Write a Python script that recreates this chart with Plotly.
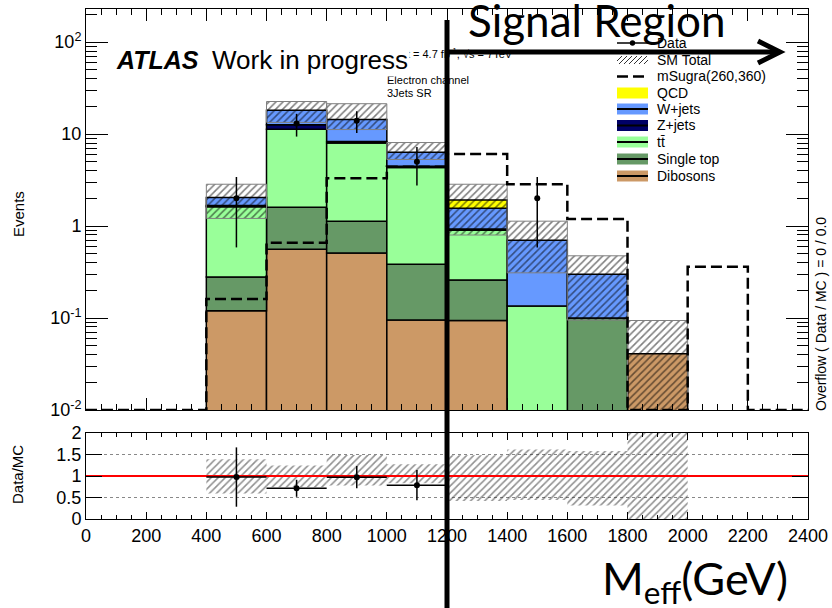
import numpy as np
import plotly.graph_objects as go

# ---------------- data: M_eff distribution, 200 GeV bins ----------------
bin_edges = list(range(0, 2600, 200))

# stacked backgrounds (events per bin), bottom of the stack first
dibosons   = [0, 0, 0.12, 0.56, 0.51, 0.095, 0.094, 0, 0, 0.041, 0, 0]
single_top = [0, 0, 0.16, 1.04, 0.62, 0.29, 0.165, 0, 0.10, 0, 0, 0]
ttbar      = [0, 0, 1.34, 9.7, 6.87, 3.96, 0.64, 0.135, 0, 0, 0, 0]
z_jets     = [0, 0, 0.05, 1.3, 0.3, 0.12, 0.03, 0, 0, 0, 0, 0]
w_jets     = [0, 0, 0.38, 5.6, 6.1, 1.9, 0.63, 0.565, 0.20, 0, 0, 0]
qcd        = [0, 0, 0, 0, 0, 0, 0.36, 0, 0, 0, 0, 0]

# SM total uncertainty (absolute, up / down)
sm_err_up   = [0, 0, 0.80, 4.4, 7.0, 1.73, 0.93, 0.43, 0.175, 0.053, 0, 0]
sm_err_down = [0, 0, 0.84, 4.8, 3.2, 1.07, 1.12, 0.39, 0.205, 0.041, 0, 0]

# signal benchmark and observed data
msugra = [0, 0, 0.161, 0.658, 3.30, 4.41, 6.06, 2.84, 1.19, 0, 0.361, 0]
data   = [0, 0, 2, 13, 14, 5, 0, 2, 0, 0, 0, 0]

# axis ticks
x_tick_step = 200
y_tick_vals = [0.01, 0.1, 1, 10, 100]
y_tick_text = ["10<sup>-2</sup>", "10<sup>-1</sup>", "1", "10", "10<sup>2</sup>"]
ratio_tick_vals = [0, 0.5, 1, 1.5, 2]
ratio_tick_text = ["0", "0.5", "1", "1.5", "2"]

# legend entries
legend_names = ["Data", "SM Total", "mSugra(260,360)", "QCD", "W+jets",
                "Z+jets", "tt\u0304", "Single top", "Dibosons"]

# ---------------- styling / geometry ----------------
FONT = "Liberation Sans, Arial, Helvetica, sans-serif"
BIG_FONT = "Lato, Open Sans, sans-serif"
W, H = 832, 608
ML, MR, MT, MB = 86, 24, 9, 89
PW, PH = W - ML - MR, H - MT - MB
X_MIN, X_MAX = bin_edges[0], bin_edges[-1]
Y_LOG_RANGE = [-2, 2.36]
FLOOR = 1e-3  # below the visible log range

colors = {
    "Dibosons": "#CC9966",
    "Single top": "#669966",
    "tt": "#99FF99",
    "Z+jets": "#000066",
    "W+jets": "#6699FF",
    "QCD": "#FFFF00",
}


def px(xp):
    return (xp - ML) / PW


def py(yp):
    return (H - MB - yp) / PH


main_domain = [py(410), 1.0]
ratio_domain = [0.0, py(433)]

edges = np.array(bin_edges, float)
centers = (edges[:-1] + edges[1:]) / 2
widths = edges[1:] - edges[:-1]

fig = go.Figure()

# ---------------- stacked histogram ----------------
stack = [
    (dibosons, colors["Dibosons"]),
    (single_top, colors["Single top"]),
    (ttbar, colors["tt"]),
    (z_jets, colors["Z+jets"]),
    (w_jets, colors["W+jets"]),
    (qcd, colors["QCD"]),
]
cum = np.zeros(len(centers))
for vals, col in stack:
    v = np.array(vals, float)
    m = v > 0
    base = np.where(cum > 0, cum, FLOOR)
    top = cum + v
    fig.add_bar(x=centers[m], y=(top - base)[m], base=base[m], width=widths[m],
                marker=dict(color=col, line=dict(color="black", width=1.5)),
                xaxis="x", yaxis="y", hoverinfo="skip")
    cum = top
total = cum

# SM total uncertainty band (hatched)
lo = total - np.array(sm_err_down, float)
hi = total + np.array(sm_err_up, float)
mt = total > 0
lo_b = np.where(lo > 0, lo, FLOOR)
fig.add_bar(x=centers[mt], y=(hi - lo_b)[mt], base=lo_b[mt], width=widths[mt],
            marker=dict(color="rgba(0,0,0,0)", line=dict(color="#808080", width=1),
                        pattern=dict(shape="/", fgcolor="#000000", bgcolor="rgba(0,0,0,0)",
                                     size=5, solidity=0.32, fillmode="overlay")),
            xaxis="x", yaxis="y", hoverinfo="skip")

# mSugra signal as dashed step line
ms = np.maximum(np.array(msugra, float), 10 ** Y_LOG_RANGE[0])
fig.add_scatter(x=edges, y=np.append(ms, ms[-1]), mode="lines",
                line=dict(shape="hv", color="black", width=2.5, dash="11px,5px"),
                xaxis="x", yaxis="y", hoverinfo="skip")

# data points
d = np.array(data, float)
md = d > 0
fig.add_scatter(x=centers[md], y=d[md], mode="markers",
                marker=dict(color="black", size=6),
                error_y=dict(type="data", array=np.sqrt(d[md]), color="black",
                             thickness=1.5, width=0),
                xaxis="x", yaxis="y", hoverinfo="skip")

# ---------------- ratio panel ----------------
r_lo = np.clip(lo[mt] / total[mt], 0, None)
r_hi = hi[mt] / total[mt]
fig.add_bar(x=centers[mt], y=r_hi - r_lo, base=r_lo, width=widths[mt],
            marker=dict(color="rgba(0,0,0,0)", line=dict(width=0),
                        pattern=dict(shape="/", fgcolor="#222222", bgcolor="rgba(0,0,0,0)",
                                     size=5, solidity=0.32, fillmode="overlay")),
            xaxis="x2", yaxis="y2", hoverinfo="skip")

fig.add_scatter(x=[X_MIN, X_MAX], y=[1, 1], mode="lines",
                line=dict(color="#FF0000", width=2), xaxis="x2", yaxis="y2",
                hoverinfo="skip")

safe_tot = np.where(total > 0, total, 1)
ratio = d / safe_tot
mr = md & (total > 0) & (ratio <= 2)
fig.add_scatter(x=centers[mr], y=ratio[mr], mode="markers",
                marker=dict(color="black", size=6),
                error_y=dict(type="data", array=(np.sqrt(d) / safe_tot)[mr], color="black",
                             thickness=1.5, width=0),
                error_x=dict(type="data", array=(widths / 2)[mr], color="black",
                             thickness=1.5, width=0),
                xaxis="x2", yaxis="y2", hoverinfo="skip")

# ---------------- axes ----------------
minor_log = [k * 10 ** e for e in range(-2, 3) for k in range(2, 10)
             if np.log10(k * 10 ** e) < Y_LOG_RANGE[1]]
tickfont = dict(family=FONT, size=18, color="black")
common = dict(showline=True, linecolor="black", linewidth=1, mirror="allticks",
              zeroline=False, tickcolor="black", tickwidth=1, ticks="inside",
              automargin=False)

fig.update_layout(
    width=W, height=H,
    margin=dict(l=ML, r=MR, t=MT, b=MB, pad=0, autoexpand=False),
    paper_bgcolor="white", plot_bgcolor="white",
    barmode="overlay", showlegend=False,
    xaxis=dict(domain=[0, 1], anchor="y", range=[X_MIN, X_MAX],
               tick0=0, dtick=x_tick_step, ticklen=12, showticklabels=False,
               minor=dict(dtick=x_tick_step / 4, tick0=0, ticks="inside", ticklen=6,
                          tickcolor="black", showgrid=False),
               showgrid=False, **common),
    yaxis=dict(domain=main_domain, anchor="x", type="log", range=Y_LOG_RANGE,
               tickmode="array", tickvals=y_tick_vals, ticktext=y_tick_text,
               ticklen=22, tickfont=tickfont,
               minor=dict(tickmode="array", tickvals=minor_log, ticks="inside",
                          ticklen=11, tickcolor="black", showgrid=False),
               showgrid=False, **common),
    xaxis2=dict(domain=[0, 1], anchor="y2", range=[X_MIN, X_MAX],
                tick0=0, dtick=x_tick_step, ticklen=7, tickfont=tickfont,
                minor=dict(dtick=x_tick_step / 4, tick0=0, ticks="inside", ticklen=4,
                           tickcolor="black", showgrid=False),
                showgrid=False, **common),
    yaxis2=dict(domain=ratio_domain, anchor="x2", range=[0, 2],
                tickmode="array", tickvals=ratio_tick_vals, ticktext=ratio_tick_text,
                ticklen=16, tickfont=tickfont,
                showgrid=True, gridcolor="#888888", griddash="dot", gridwidth=1,
                **common),
)

# ---------------- legend (drawn by hand, ROOT style) ----------------
shapes = []
annotations = []
LX0, LX1, LTX = 617, 648, 655
row_y = [43, 60, 76.5, 93, 109, 125.5, 142, 159, 176]
box_h = 11

# Data: line with a marker
shapes.append(dict(type="line", xref="paper", yref="paper", x0=px(LX0), x1=px(LX1),
                   y0=py(row_y[0]), y1=py(row_y[0]), line=dict(color="black", width=1.5)))
cx = (LX0 + LX1) / 2
shapes.append(dict(type="circle", xref="paper", yref="paper", x0=px(cx - 2.7), x1=px(cx + 2.7),
                   y0=py(row_y[0] + 2.7), y1=py(row_y[0] - 2.7),
                   fillcolor="black", line=dict(width=0)))

# SM total: hatched swatch
hy0, hy1 = row_y[1] - 4, row_y[1] + 4
hh = hy1 - hy0
for xs in np.arange(LX0 - hh, LX1, 5.0):
    xa, ya = xs, hy1
    xb, yb = xs + hh, hy0
    if xa < LX0:
        ya -= (LX0 - xa)
        xa = LX0
    if xb > LX1:
        yb += (xb - LX1)
        xb = LX1
    shapes.append(dict(type="line", xref="paper", yref="paper", x0=px(xa), x1=px(xb),
                       y0=py(ya), y1=py(yb), line=dict(color="#333333", width=1)))

# mSugra: dashed line
shapes.append(dict(type="line", xref="paper", yref="paper", x0=px(LX0), x1=px(LX1),
                   y0=py(row_y[2]), y1=py(row_y[2]),
                   line=dict(color="black", width=2.5, dash="11px,5px")))

# filled boxes
box_cols = [colors["QCD"], colors["W+jets"], colors["Z+jets"], colors["tt"],
            colors["Single top"], colors["Dibosons"]]
for i, col in enumerate(box_cols):
    yc = row_y[3 + i]
    shapes.append(dict(type="rect", xref="paper", yref="paper", x0=px(LX0), x1=px(LX1),
                       y0=py(yc + box_h / 2), y1=py(yc - box_h / 2),
                       fillcolor=col, line=dict(width=0)))
    if i > 0:
        shapes.append(dict(type="line", xref="paper", yref="paper", x0=px(LX0), x1=px(LX1),
                           y0=py(yc), y1=py(yc), line=dict(color="black", width=2)))

for name, yc in zip(legend_names, row_y):
    annotations.append(dict(text=name, xref="paper", yref="paper", x=px(LTX), y=py(yc),
                            xanchor="left", yanchor="middle", showarrow=False,
                            font=dict(family=FONT, size=14, color="black")))

# ---------------- labels ----------------
annotations += [
    dict(text="\u222bL dt = 4.7 fb<sup>-1</sup>, \u221as = 7TeV", x=px(386), y=py(53),
         xanchor="left", yanchor="middle", font=dict(family=FONT, size=11, color="black")),
    dict(text="Electron channel", x=px(385), y=py(80.5), xanchor="left", yanchor="middle",
         font=dict(family=FONT, size=11, color="black")),
    dict(text="3Jets SR", x=px(385), y=py(93), xanchor="left", yanchor="middle",
         font=dict(family=FONT, size=11, color="black")),
    dict(text="<b><i>ATLAS</i></b>", x=px(114), y=py(60), xanchor="left", yanchor="middle",
         font=dict(family=FONT, size=25, color="black")),
    # the label box is opaque and sits over the start of the luminosity line
    dict(text="Work in progress", x=px(210), y=py(60), xanchor="left", yanchor="middle",
         bgcolor="white", borderpad=1,
         font=dict(family=FONT, size=26, color="black")),
    dict(text="Events", x=px(18), y=py(214), textangle=-90, xanchor="center", yanchor="middle",
         font=dict(family=FONT, size=15, color="black")),
    dict(text="Data/MC", x=px(17), y=py(475), textangle=-90, xanchor="center", yanchor="middle",
         font=dict(family=FONT, size=15, color="black")),
    dict(text="Overflow ( Data / MC ) = 0 / 0.0", x=px(821), y=py(314), textangle=-90,
         xanchor="center", yanchor="middle", font=dict(family=FONT, size=14, color="black")),
    dict(text="Signal Region", x=px(597), y=py(20), xanchor="center", yanchor="middle",
         font=dict(family=BIG_FONT, size=44, color="black")),
    dict(text="M<sub>eff</sub>(GeV)", x=px(695), y=py(581), xanchor="center", yanchor="middle",
         font=dict(family=BIG_FONT, size=45, color="black")),
]
for a in annotations:
    a.setdefault("xref", "paper")
    a.setdefault("yref", "paper")
    a.setdefault("showarrow", False)

# signal-region boundary and arrow
x_cut = px(ML + (1200 - X_MIN) / (X_MAX - X_MIN) * PW)
shapes.append(dict(type="line", xref="paper", yref="paper", x0=x_cut, x1=x_cut,
                   y0=py(20), y1=py(H), line=dict(color="black", width=5), layer="above"))
shapes.append(dict(type="line", xref="paper", yref="paper", x0=x_cut, x1=px(778),
                   y0=py(52), y1=py(52), line=dict(color="black", width=5), layer="above"))
shapes.append(dict(type="path", xref="paper", yref="paper",
                   path=f"M {px(758)},{py(41)} L {px(780)},{py(52)} L {px(758)},{py(63)}",
                   line=dict(color="black", width=5), layer="above"))

fig.update_layout(shapes=shapes, annotations=annotations)
fig.write_html("out.html")
